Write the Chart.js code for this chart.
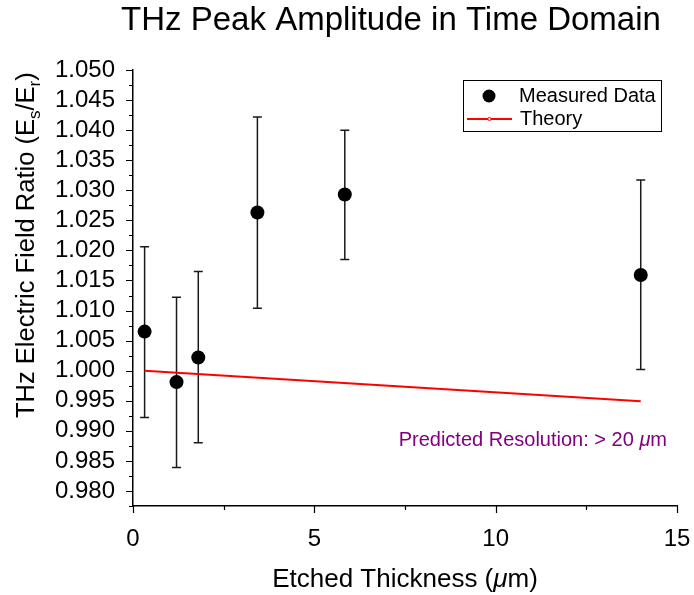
<!DOCTYPE html>
<html>
<head>
<meta charset="utf-8">
<script src="https://cdn.jsdelivr.net/npm/chart.js@4/dist/chart.umd.min.js"></script>
<style>
  body { margin: 0; background: #fff; }
  canvas { display: block; }
</style>
</head>
<body>
<canvas id="chart" width="694" height="595"></canvas>
<script>
// measured points (etched thickness in um, field ratio)
const thickness = [0.32, 1.2, 1.8, 3.43, 5.84, 14.0];
const ratio = [1.0065, 0.9981, 1.0022, 1.0263, 1.0293, 1.0159];
const errLow = [0.9922, 0.9839, 0.9880, 1.0104, 1.0185, 1.0002];
const errHigh = [1.0206, 1.0122, 1.0165, 1.0422, 1.0400, 1.0317];

// theory line
const theoryX = [0.32, 14.0];
const theoryY = [1.0000, 0.9949];

const FONT = '"Liberation Sans", Arial, sans-serif';

// everything Chart.js can't do by itself: error bars, ticks, titles, legend box
const extras = {
  id: 'extras',
  beforeDatasetsDraw(chart) {
    const ctx = chart.ctx;
    const xs = chart.scales.x, ys = chart.scales.y;
    ctx.save();
    ctx.strokeStyle = '#1a1a1a';
    ctx.lineWidth = 1.5;
    thickness.forEach((t, i) => {
      const px = xs.getPixelForValue(t);
      const top = ys.getPixelForValue(errHigh[i]);
      const bot = ys.getPixelForValue(errLow[i]);
      ctx.beginPath();
      ctx.moveTo(px, top); ctx.lineTo(px, bot);
      ctx.moveTo(px - 4.5, top); ctx.lineTo(px + 4.5, top);
      ctx.moveTo(px - 4.5, bot); ctx.lineTo(px + 4.5, bot);
      ctx.stroke();
    });
    ctx.restore();
  },
  afterDraw(chart) {
    const ctx = chart.ctx;
    const xs = chart.scales.x, ys = chart.scales.y;
    const area = chart.chartArea;
    ctx.save();

    // tick marks, outward, minor ones shorter
    ctx.strokeStyle = '#000';
    ctx.lineWidth = 1.2;
    ctx.beginPath();
    ys.ticks.forEach(tk => {
      const py = Math.round(ys.getPixelForValue(tk.value)) + 0.5;
      const len = tk.label ? 7 : 4;
      ctx.moveTo(area.left, py); ctx.lineTo(area.left - len, py);
    });
    xs.ticks.forEach(tk => {
      const px = Math.round(xs.getPixelForValue(tk.value)) + 0.5;
      const len = tk.label ? 7 : 4;
      ctx.moveTo(px, area.bottom); ctx.lineTo(px, area.bottom + len);
    });
    ctx.stroke();

    // main title
    ctx.fillStyle = '#000';
    ctx.font = '33px ' + FONT;
    ctx.textAlign = 'center';
    ctx.textBaseline = 'alphabetic';
    ctx.fillText('THz Peak Amplitude in Time Domain', 391, 30);

    // x axis title with italic mu
    ctx.font = '26px ' + FONT;
    const xa = 'Etched Thickness (', xb = 'm)';
    ctx.font = 'italic 26px ' + FONT;
    const wMu = ctx.measureText('\u03bc').width;
    ctx.font = '26px ' + FONT;
    const wXa = ctx.measureText(xa).width, wXb = ctx.measureText(xb).width;
    let sx = (area.left + area.right) / 2 - (wXa + wMu + wXb) / 2;
    ctx.textAlign = 'left';
    ctx.fillText(xa, sx, 587);
    ctx.font = 'italic 26px ' + FONT;
    ctx.fillText('\u03bc', sx + wXa, 587);
    ctx.font = '26px ' + FONT;
    ctx.fillText(xb, sx + wXa + wMu, 587);

    // y axis title, rotated, with subscripts
    ctx.save();
    ctx.translate(34, 418);
    ctx.rotate(-Math.PI / 2);
    const parts = [
      ['THz Electric Field Ratio (E', 25.5, 0],
      ['s', 17, 6],
      ['/E', 25.5, 0],
      ['r', 17, 6],
      [')', 25.5, 0]
    ];
    let cx = 0;
    parts.forEach(p => {
      ctx.font = p[1] + 'px ' + FONT;
      ctx.fillText(p[0], cx, p[2]);
      cx += ctx.measureText(p[0]).width;
    });
    ctx.restore();

    // legend box
    ctx.lineWidth = 1;
    ctx.strokeStyle = '#000';
    ctx.strokeRect(463.5, 80.5, 198, 51);
    ctx.beginPath();
    ctx.arc(489, 96, 6.5, 0, Math.PI * 2);
    ctx.fillStyle = '#000';
    ctx.fill();
    ctx.strokeStyle = '#ff0000';
    ctx.lineWidth = 2;
    ctx.beginPath();
    ctx.moveTo(467, 119); ctx.lineTo(512, 119);
    ctx.stroke();
    ctx.beginPath();
    ctx.arc(489.5, 119, 1.6, 0, Math.PI * 2);
    ctx.fillStyle = '#fff';
    ctx.fill();
    ctx.lineWidth = 1;
    ctx.stroke();
    ctx.fillStyle = '#000';
    ctx.font = '20px ' + FONT;
    ctx.textBaseline = 'middle';
    ctx.fillText('Measured Data', 519, 96);
    ctx.fillText('Theory', 520, 119);

    // resolution note, right aligned near the plot edge
    ctx.fillStyle = '#800080';
    const na = 'Predicted Resolution: > 20 ', nb = 'm';
    ctx.font = '20px ' + FONT;
    const wNa = ctx.measureText(na).width, wNb = ctx.measureText(nb).width;
    ctx.font = 'italic 20px ' + FONT;
    const wNm = ctx.measureText('\u03bc').width;
    let nx = 667 - (wNa + wNm + wNb);
    ctx.font = '20px ' + FONT;
    ctx.fillText(na, nx, 440);
    ctx.font = 'italic 20px ' + FONT;
    ctx.fillText('\u03bc', nx + wNa, 440);
    ctx.font = '20px ' + FONT;
    ctx.fillText(nb, nx + wNa + wNm, 440);

    ctx.restore();
  }
};

new Chart(document.getElementById('chart'), {
  type: 'scatter',
  data: {
    datasets: [
      {
        label: 'Measured Data',
        data: thickness.map((t, i) => ({ x: t, y: ratio[i] })),
        backgroundColor: '#000',
        borderWidth: 0,
        pointRadius: 7,
        showLine: false
      },
      {
        label: 'Theory',
        data: theoryX.map((t, i) => ({ x: t, y: theoryY[i] })),
        borderColor: '#ff0000',
        borderWidth: 2,
        pointRadius: 0,
        showLine: true
      }
    ]
  },
  options: {
    responsive: false,
    animation: false,
    layout: { padding: { left: 0, top: 70, right: 17, bottom: 0 } },
    plugins: {
      legend: { display: false },
      tooltip: { enabled: false }
    },
    scales: {
      x: {
        type: 'linear',
        min: 0,
        max: 15,
        afterFit: s => { s.height = 89; s.paddingLeft = 0; s.paddingRight = 0; },
        grid: { display: false, drawTicks: false },
        border: { display: true, color: '#000', width: 1.5 },
        ticks: {
          stepSize: 2.5,
          padding: 19,
          autoSkip: false,
          color: '#000',
          font: { family: FONT, size: 24 },
          maxRotation: 0,
          callback: v => (Math.abs(v / 5 - Math.round(v / 5)) < 1e-6 ? String(v) : '')
        }
      },
      y: {
        min: 0.9775,
        max: 1.05,
        afterFit: s => { s.width = 133; s.paddingTop = 0; s.paddingBottom = 0; },
        grid: { display: false, drawTicks: false },
        border: { display: true, color: '#000', width: 1.5 },
        ticks: {
          stepSize: 0.0025,
          padding: 18,
          autoSkip: false,
          color: '#000',
          font: { family: FONT, size: 24 },
          callback: v => (Math.abs(v * 200 - Math.round(v * 200)) < 1e-6 ? v.toFixed(3) : '')
        }
      }
    }
  },
  plugins: [extras]
});
</script>
</body>
</html>
